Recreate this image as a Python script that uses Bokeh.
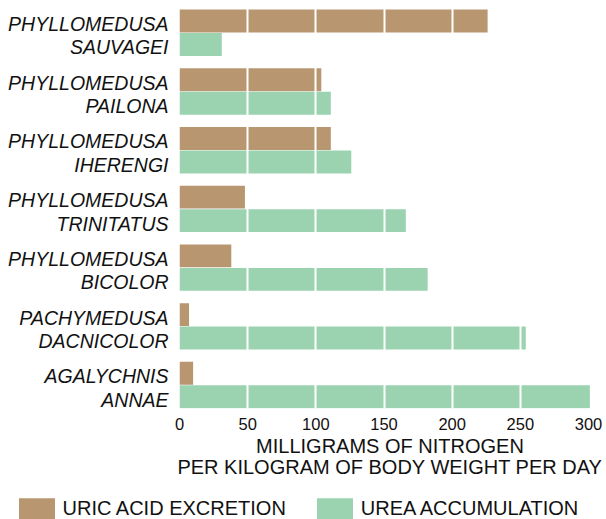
from bokeh.plotting import figure
from bokeh.layouts import column
from bokeh.models import Range1d, FixedTicker, Legend, LegendItem, ColumnDataSource
from bokeh.embed import file_html
from bokeh.resources import INLINE

# ---- data ----
genus = ["PHYLLOMEDUSA", "PHYLLOMEDUSA", "PHYLLOMEDUSA", "PHYLLOMEDUSA",
         "PHYLLOMEDUSA", "PACHYMEDUSA", "AGALYCHNIS"]
species = ["SAUVAGEI", "PAILONA", "IHERENGI", "TRINITATUS",
           "BICOLOR", "DACNICOLOR", "ANNAE"]
uric_acid = [226, 104, 111, 48, 38, 7, 10]
urea = [31, 111, 126, 166, 182, 254, 301]
x_ticks = [0, 50, 100, 150, 200, 250, 300]
series_names = ["URIC ACID EXCRETION", "UREA ACCUMULATION"]
axis_title = "MILLIGRAMS OF NITROGEN\nPER KILOGRAM OF BODY WEIGHT PER DAY"

BROWN = "#B89670"
GREEN = "#9BD3B0"
FONT = "Liberation Sans"
TXT = "#111111"

# layout in group units (100 per species group)
base = [100 * i for i in range(len(species))]
y_uric = [b - 20 for b in base]
y_urea = [b + 20 for b in base]
tick_uric = [b - 15 for b in base]
tick_urea = [b + 25 for b in base]

src_u = ColumnDataSource(dict(y=y_uric, v=uric_acid))
src_r = ColumnDataSource(dict(y=y_urea, v=urea))

p = figure(width=606, height=490, output_backend="svg", toolbar_location=None,
           x_range=Range1d(0, 308.8), y_range=Range1d(640, -41.4),
           min_border_left=179, min_border_right=6, min_border_top=8,
           min_border_bottom=82, title=None)
p.frame_align = False
p.outline_line_color = None
p.background_fill_color = "white"

r1 = p.hbar(y="y", right="v", left=0, height=39, source=src_u,
            fill_color=BROWN, line_color=None)
r2 = p.hbar(y="y", right="v", left=0, height=39, source=src_r,
            fill_color=GREEN, line_color=None)

# grid lines drawn over bars
p.xgrid.ticker = FixedTicker(ticks=x_ticks[1:-1])
p.xgrid.grid_line_color = "white"
p.xgrid.grid_line_width = 2
p.xgrid.level = "overlay"
p.ygrid.visible = False

# x axis
xa = p.xaxis[0]
xa.ticker = FixedTicker(ticks=x_ticks)
xa.axis_line_color = None
xa.major_tick_line_color = None
xa.minor_tick_line_color = None
xa.major_tick_out = 0
xa.major_label_standoff = 9
xa.major_label_text_font = FONT
xa.major_label_text_font_size = "16.5px"
xa.major_label_text_color = TXT
xa.axis_label = axis_title
xa.axis_label_text_font = FONT
xa.axis_label_text_font_size = "20px"
xa.axis_label_text_font_style = "normal"
xa.axis_label_text_color = TXT
xa.axis_label_text_line_height = 0.96
xa.axis_label_standoff = 2

# y axis with species names
ya = p.yaxis[0]
ticks = sorted(tick_uric + tick_urea)
overrides = {}
for i in range(len(species)):
    overrides[tick_uric[i]] = genus[i]
    overrides[tick_urea[i]] = species[i]
ya.ticker = FixedTicker(ticks=ticks)
ya.major_label_overrides = overrides
ya.axis_line_color = None
ya.major_tick_line_color = None
ya.minor_tick_line_color = None
ya.major_tick_out = 0
ya.major_label_standoff = 11
ya.major_label_text_font = FONT
ya.major_label_text_font_size = "19.5px"
ya.major_label_text_font_style = "italic"
ya.major_label_text_color = TXT

# legend strip below the chart (bars kept outside its visible range)
p2 = figure(width=606, height=29, output_backend="svg", toolbar_location=None,
            x_axis_type=None, y_axis_type=None,
            x_range=Range1d(0, 1), y_range=Range1d(5000, 5001),
            min_border_left=0, min_border_right=0, min_border_top=0,
            min_border_bottom=0, title=None)
p2.frame_align = False
p2.outline_line_color = None
p2.grid.visible = False
l1 = p2.hbar(y="y", right="v", left=0, height=39, source=src_u,
             fill_color=BROWN, line_color=None)
l2 = p2.hbar(y="y", right="v", left=0, height=39, source=src_r,
             fill_color=GREEN, line_color=None)

legend = Legend(items=[LegendItem(label=series_names[0], renderers=[l1]),
                       LegendItem(label=series_names[1], renderers=[l2])],
                orientation="horizontal", location=(13.5, -3.9),
                glyph_width=45, glyph_height=28, label_standoff=4, spacing=26,
                padding=0, margin=0, border_line_color=None,
                background_fill_alpha=0,
                label_text_font=FONT, label_text_font_size="20px",
                label_text_color=TXT)
p2.add_layout(legend, "center")

layout = column(p, p2, spacing=0)
open("out.html", "w").write(file_html(layout, INLINE))
